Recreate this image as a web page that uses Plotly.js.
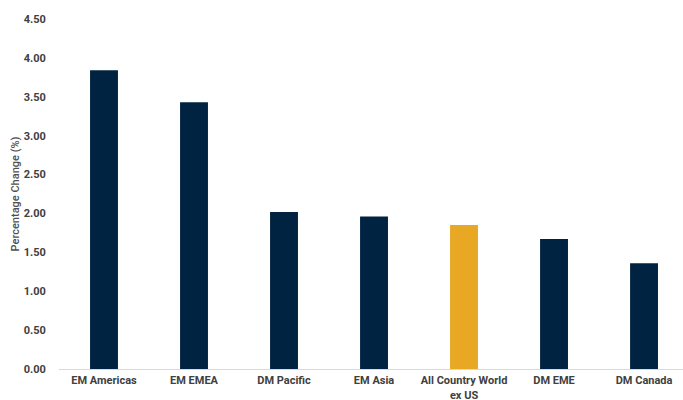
<!DOCTYPE html>
<html>
<head>
<meta charset="utf-8">
<script src="https://cdn.plot.ly/plotly-3.0.1.min.js"></script>
<style>html,body{margin:0;padding:0;background:#fff;}#chart{width:683px;height:400px;}</style>
</head>
<body>
<div id="chart"></div>
<script>
const categories = ["EM Americas", "EM EMEA", "DM Pacific", "EM Asia", "All Country World<br>ex US", "DM EME", "DM Canada"];
const values = [3.84, 3.43, 2.02, 1.96, 1.85, 1.67, 1.36];
const barColors = ["#002341", "#002341", "#002341", "#002341", "#E8A824", "#002341", "#002341"];
const yTicks = [0, 0.5, 1, 1.5, 2, 2.5, 3, 3.5, 4, 4.5];

const fontFam = "'Liberation Sans Narrow', 'Arial Narrow', Roboto, sans-serif";

Plotly.newPlot('chart', [{
  type: 'bar',
  x: categories.map((c, i) => i),
  y: values,
  marker: {color: barColors, line: {width: 0}},
  width: 0.31,
  hoverinfo: 'none'
}], {
  width: 683, height: 400,
  margin: {l: 59, r: 0, t: 19, b: 31},
  paper_bgcolor: '#fff', plot_bgcolor: '#fff',
  showlegend: false,
  font: {family: fontFam, color: '#595959', size: 11},
  xaxis: {
    range: [-0.5, 6.433],
    tickmode: 'array',
    tickvals: categories.map((c, i) => i),
    ticktext: categories,
    showgrid: false, zeroline: false,
    showline: true, linecolor: '#d9d9d9', linewidth: 1,
    ticks: 'outside', ticklen: 1, tickcolor: 'rgba(0,0,0,0)',
    tickfont: {family: fontFam, size: 11, color: '#404040', weight: 'bold'},
    fixedrange: true
  },
  yaxis: {
    range: [0, 4.5],
    tickmode: 'array',
    tickvals: yTicks,
    ticktext: yTicks.map(v => v.toFixed(2)),
    showgrid: false, zeroline: false, showline: false,
    ticks: 'outside', ticklen: 10, tickcolor: 'rgba(0,0,0,0)',
    tickfont: {family: fontFam, size: 11, color: '#404040', weight: 'bold'},
    title: {text: 'Percentage Change (%)', font: {family: fontFam, size: 11, color: '#505050', weight: 500}, standoff: 1},
    fixedrange: true
  }
}, {displayModeBar: false, staticPlot: true});
</script>
</body>
</html>
